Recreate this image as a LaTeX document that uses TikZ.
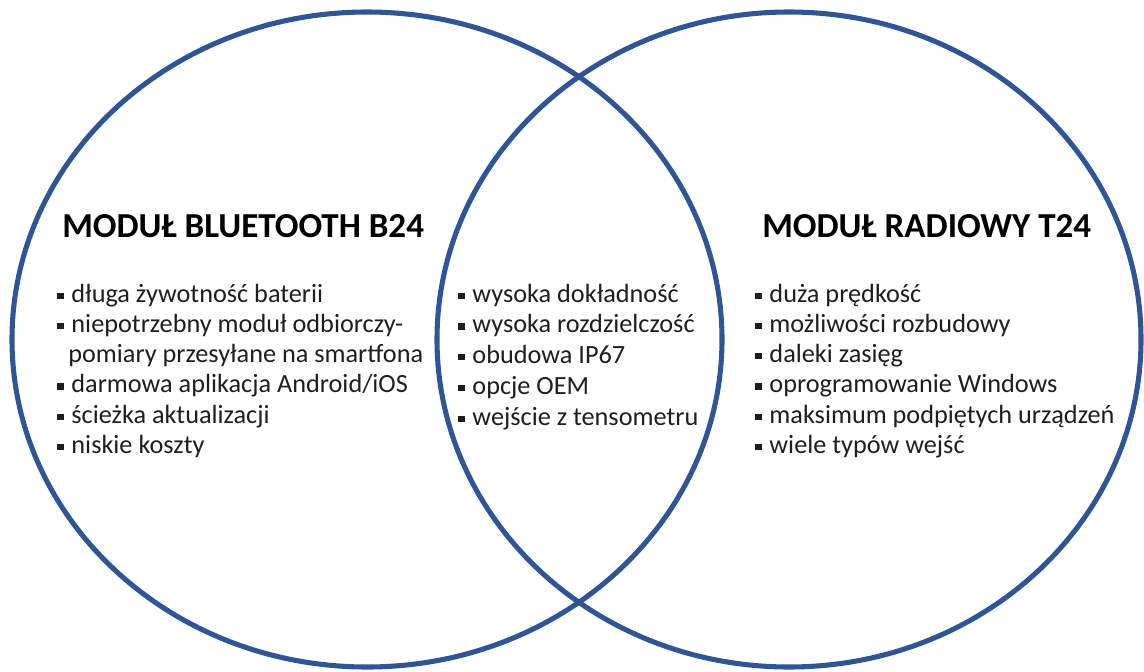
\documentclass[tikz,border=0pt]{standalone}
\usepackage{fontspec}
\setmainfont{Carlito}
\definecolor{vennblue}{RGB}{47,85,151}
\definecolor{itemtext}{RGB}{30,30,30}
\newcommand{\sqbul}{\rule[0.12em]{0.24em}{0.24em}\hspace{0.3em}}
\newcommand{\nobul}{\hspace*{0.42em}}

\begin{document}
\begin{tikzpicture}[x=0.75pt,y=0.75pt,yscale=-1,xscale=1,
  venn/.style={draw=vennblue, line width=3.8pt},
  heading/.style={anchor=base west, inner sep=0pt, font=\fontsize{26.3}{31}\selectfont\bfseries},
  item/.style={anchor=base west, inner sep=0pt, text=itemtext, font=\fontsize{19.7}{24}\selectfont}]
\path [use as bounding box] (0,0) rectangle (1144,671);

%Shape: Ellipse [left]
\draw [venn] (367,339.5) ellipse [x radius=355, y radius=327.5];
%Shape: Ellipse [right]
\draw [venn] (789,339.5) ellipse [x radius=352, y radius=327.5];

% Text Node
\draw (62,237) node (bttitle) [heading] {MODUŁ BLUETOOTH B24};
% Text Node
\draw (762,237) node (rdtitle) [heading] {MODUŁ RADIOWY T24};

% left list
\foreach \txt [count=\i] in {\sqbul długa żywotność baterii, \sqbul niepotrzebny moduł odbiorczy-, \nobul pomiary przesyłane na smartfona, \sqbul darmowa aplikacja Android/iOS, \sqbul ścieżka aktualizacji, \sqbul niskie koszty}
  \draw (57,{302+30.3*(\i-1)}) node (bt\i) [item] {\txt};

% common list
\foreach \txt [count=\i] in {\sqbul wysoka dokładność, \sqbul wysoka rozdzielczość, \sqbul obudowa IP67, \sqbul opcje OEM, \sqbul wejście z tensometru}
  \draw (458,{302+30.8*(\i-1)}) node (cm\i) [item] {\txt};

% right list
\foreach \txt [count=\i] in {\sqbul duża prędkość, \sqbul możliwości rozbudowy, \sqbul daleki zasięg, \sqbul oprogramowanie Windows, \sqbul maksimum podpiętych urządzeń, \sqbul wiele typów wejść}
  \draw (755,{302+30.3*(\i-1)}) node (rd\i) [item] {\txt};

\end{tikzpicture}
\end{document}
